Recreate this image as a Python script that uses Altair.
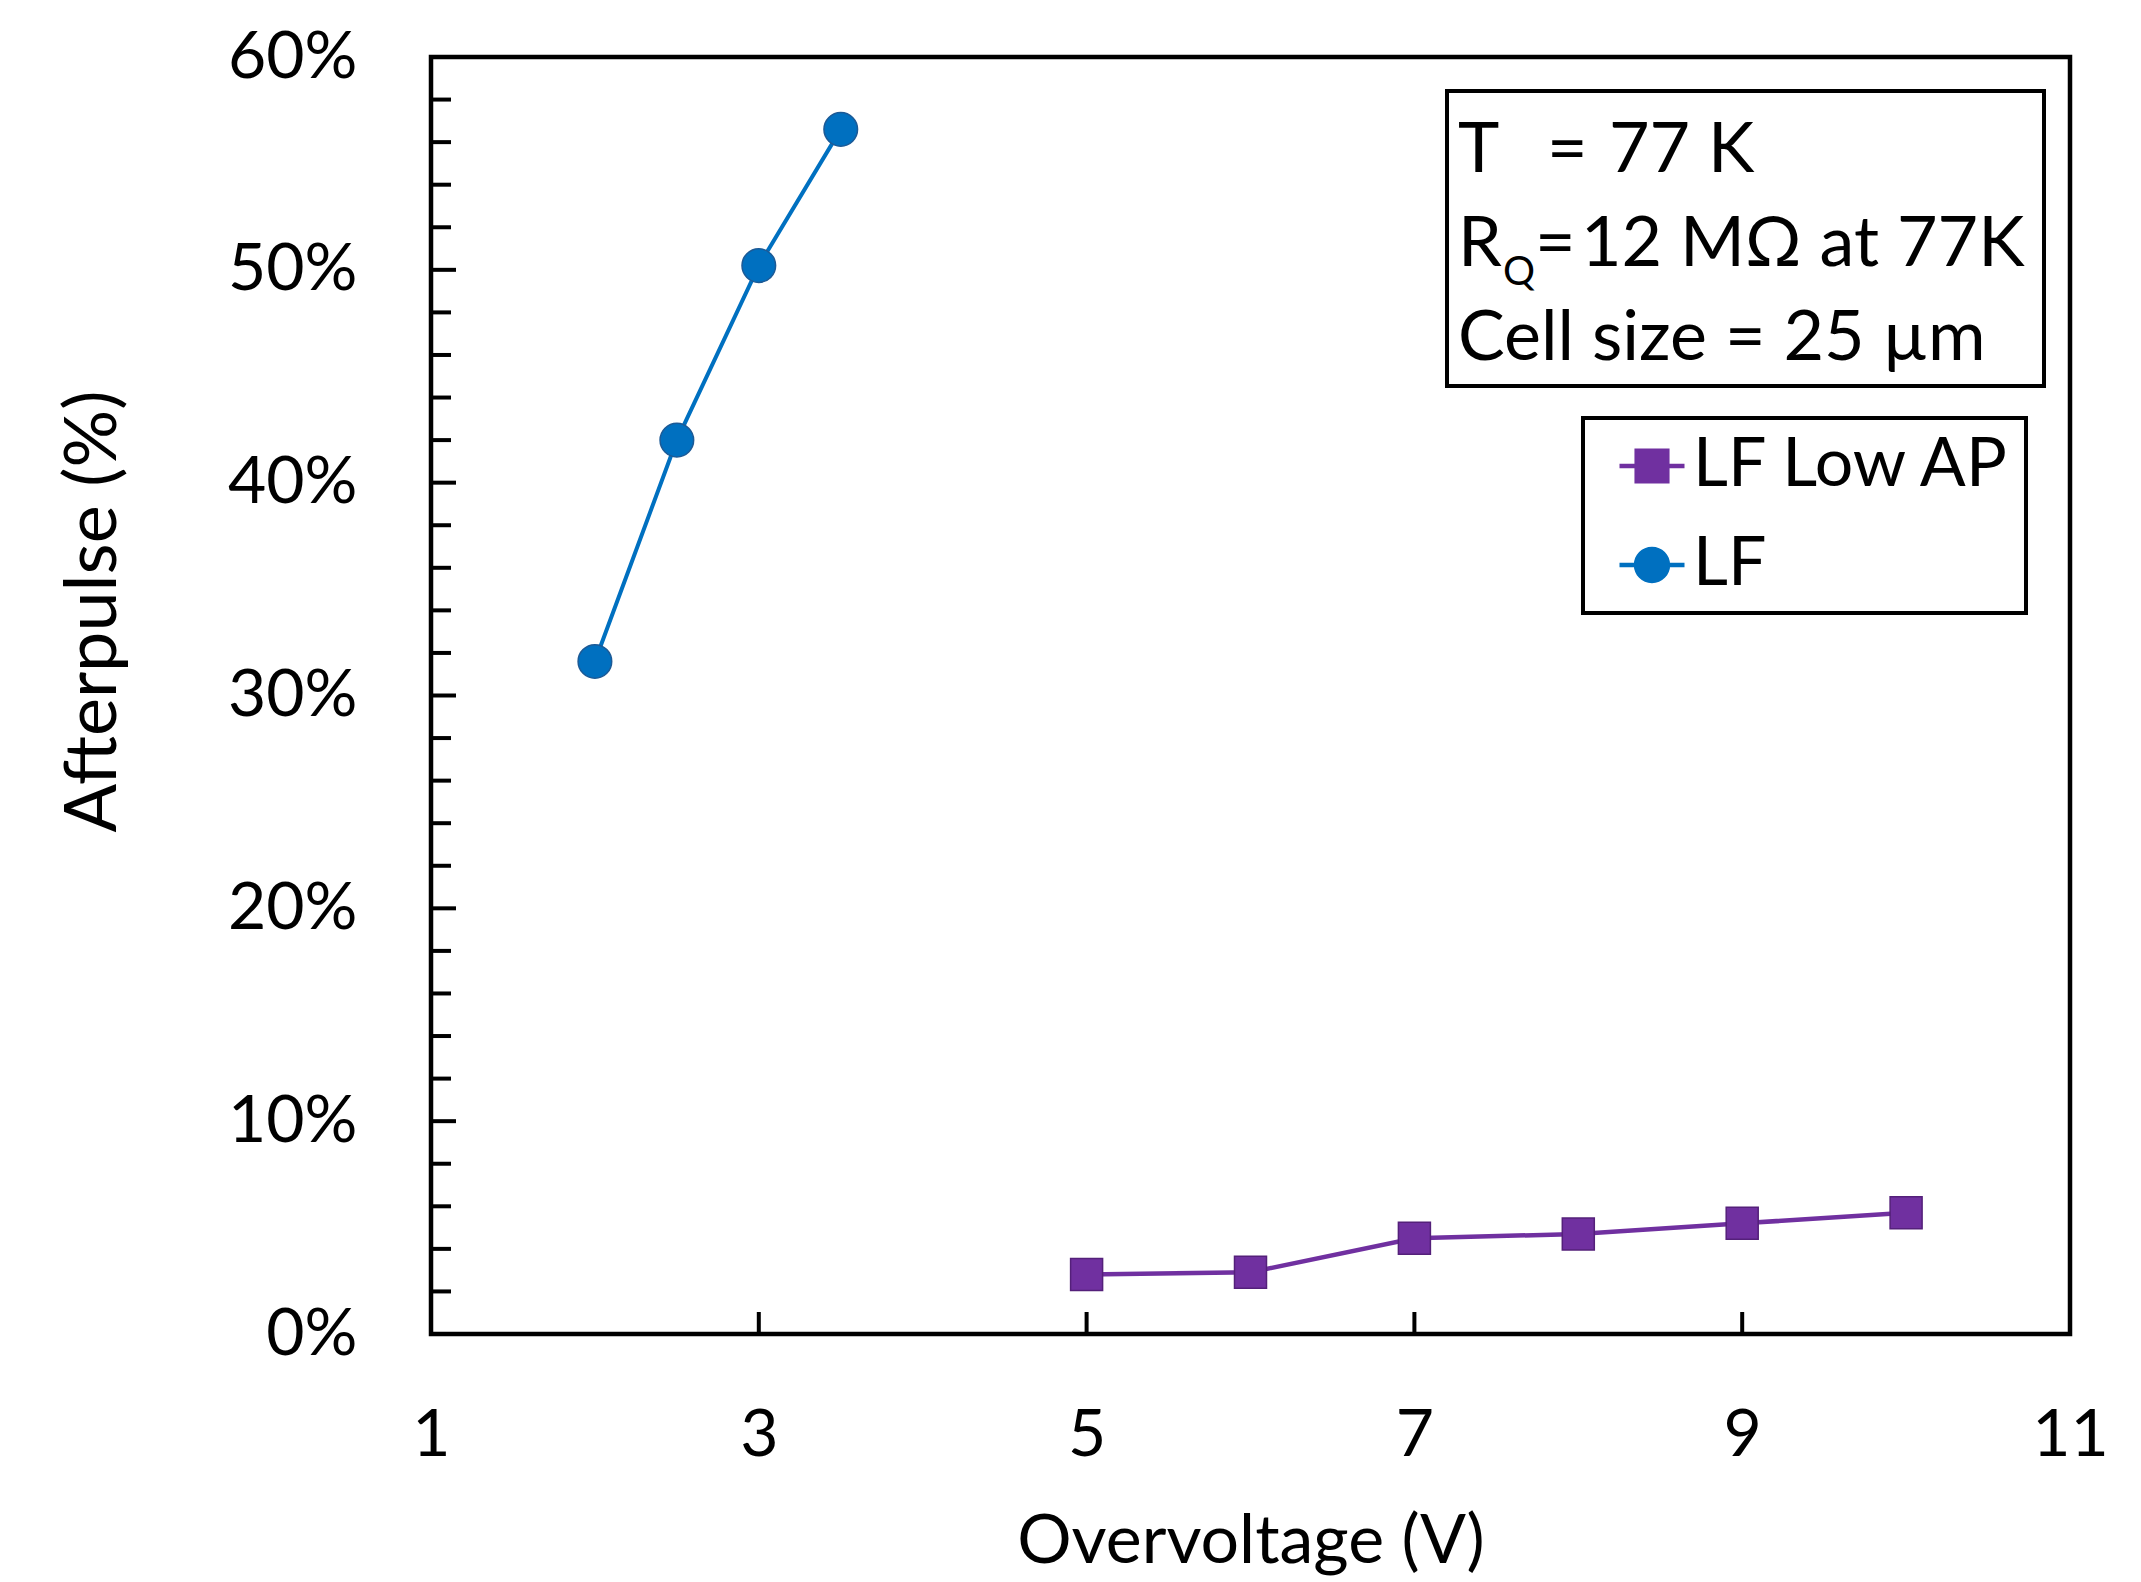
import altair as alt
import pandas as pd

# ---------------- data ----------------
series_names = ["LF Low AP", "LF"]
series_colors = ["#7030A0", "#0070C0"]
series_edge = ["#54207a", "#1c5a96"]
series_shapes = ["square", "circle"]

lf_low_ap_v = [5, 6, 7, 8, 9, 10]
lf_low_ap_ap = [2.8, 2.9, 4.5, 4.7, 5.2, 5.7]

lf_v = [2, 2.5, 3, 3.5]
lf_ap = [31.6, 42.0, 50.2, 56.6]

x_tick_values = [1, 3, 5, 7, 9, 11]
x_inner_ticks = [3, 5, 7, 9]
y_tick_values = [0, 10, 20, 30, 40, 50, 60]
y_major_inner = [10, 20, 30, 40, 50]
y_minor_inner = [2, 4, 6, 8, 12, 14, 16, 18, 22, 24, 26, 28, 32, 34, 36, 38,
                 42, 44, 46, 48, 52, 54, 56, 58]

x_title = "Overvoltage (V)"
y_title = "Afterpulse (%)"
annot_T = ["T", "=", "77 K"]
annot_R = ["R", "Q", "=", "12 MΩ at 77K"]
annot_cell = "Cell size = 25 µm"

# ---------------- tables ----------------
df = pd.DataFrame({
    "V": lf_low_ap_v + lf_v,
    "AP": lf_low_ap_ap + lf_ap,
    "series": [series_names[0]] * len(lf_low_ap_v) + [series_names[1]] * len(lf_v),
})
ymaj = pd.DataFrame({"t": y_major_inner})
ymin = pd.DataFrame({"t": y_minor_inner})
xin = pd.DataFrame({"t": x_inner_ticks})

FONT = "Lato"
W, H = 1639, 1277

xscale = alt.Scale(domain=[1, 11], nice=False, zero=False)
yscale = alt.Scale(domain=[0, 60], nice=False)
cscale = alt.Scale(domain=series_names, range=series_colors)

sq_path = "M-1,-0.07H-0.54V-0.54H0.54V-0.07H1V0.07H0.54V0.54H-0.54V0.07H-1Z"
ci_path = ("M-1,-0.07H-0.5V0.07H-1Z M0.5,-0.07H1V0.07H0.5Z "
           "M0.56,0A0.56,0.56,0,1,1,-0.56,0A0.56,0.56,0,1,1,0.56,0Z")
sscale = alt.Scale(domain=series_names, range=[sq_path, ci_path])

xaxis = alt.Axis(values=x_tick_values, format="d", title=x_title,
                 domain=False, ticks=False, tickSize=0, grid=False,
                 labelFontSize=66, labelFont=FONT, labelPadding=69,
                 labelFlush=False, labelOverlap=False,
                 titleFontSize=68, titleFont=FONT, titleY=228,
                 titleBaseline="alphabetic")
yaxis = alt.Axis(values=y_tick_values, labelExpr="datum.value + '%'", title=y_title,
                 domain=False, ticks=False, tickSize=0, grid=False,
                 labelFontSize=66, labelFont=FONT, labelPadding=74,
                 labelOverlap=False,
                 titleFontSize=72, titleFont=FONT, titleX=-316, titleY=554,
                 titleAlign="center", titleBaseline="alphabetic")

X = alt.X("V:Q", scale=xscale, axis=xaxis)
Y = alt.Y("AP:Q", scale=yscale, axis=yaxis)

leg = alt.Legend(title=None, orient="none", legendX=1152, legendY=361,
                 symbolSize=4225, symbolStrokeWidth=0, symbolOffset=21,
                 labelFont=FONT, labelFontSize=68, labelColor="black",
                 labelLimit=2000, labelOffset=7, rowPadding=31, padding=14,
                 strokeColor="black", fillColor="white")

series_layers = []
for i, name in enumerate(series_names):
    base = alt.Chart(df).transform_filter(alt.datum.series == name)
    series_layers.append(
        base.mark_line(color=series_colors[i], strokeWidth=4.5 if i == 0 else 4).encode(x=X, y=Y)
    )
for i, name in enumerate(series_names):
    base = alt.Chart(df).transform_filter(alt.datum.series == name)
    series_layers.append(
        base.mark_point(shape=series_shapes[i], filled=True,
                        size=1024 if i == 0 else 1130, opacity=1,
                        fill=series_colors[i], stroke=series_edge[i],
                        strokeWidth=1.5).encode(x=X, y=Y)
    )

# legend only (no marks drawn: every row filtered away, scales carry the domain)
legend_layer = alt.Chart(df).transform_filter("false").mark_point(
    filled=True, opacity=1).encode(
    x=X, y=Y,
    color=alt.Color("series:N", scale=cscale, legend=leg),
    shape=alt.Shape("series:N", scale=sscale, legend=leg),
)

ymaj_ticks = alt.Chart(ymaj).mark_rule(color="black", strokeWidth=4).encode(
    y=alt.Y("t:Q", scale=yscale), x=alt.value(0), x2=alt.value(25))
ymin_ticks = alt.Chart(ymin).mark_rule(color="black", strokeWidth=4).encode(
    y=alt.Y("t:Q", scale=yscale), x=alt.value(0), x2=alt.value(20))
x_ticks = alt.Chart(xin).mark_rule(color="black", strokeWidth=4).encode(
    x=alt.X("t:Q", scale=xscale), y=alt.value(H), y2=alt.value(H - 22))

one = alt.Data(values=[{}])
box = alt.Chart(one).mark_rect(fill="white", stroke="black", strokeWidth=4).encode(
    x=alt.value(1016), x2=alt.value(1613), y=alt.value(34), y2=alt.value(329))


def txt(s, x, y, size=70):
    return alt.Chart(one).mark_text(align="left", baseline="alphabetic",
                                    font=FONT, fontSize=size, color="black").encode(
        x=alt.value(x), y=alt.value(y), text=alt.value(s))


annot = [
    txt(annot_T[0], 1027, 115),
    txt(annot_T[1], 1116, 115),
    txt(annot_T[2], 1178, 115),
    txt(annot_R[0], 1027, 209),
    txt(annot_R[1], 1072, 228, 40),
    txt(annot_R[2], 1104, 209),
    txt(annot_R[3], 1150, 209),
    txt(annot_cell, 1027, 303),
]

chart = alt.layer(
    ymaj_ticks, ymin_ticks, x_ticks, *series_layers, legend_layer, box, *annot
).properties(
    width=W, height=H,
    autosize=alt.AutoSizeParams(type="none"),
    padding={"left": 431, "top": 57, "right": 71, "bottom": 248},
    background="white",
).configure_view(
    stroke="black", strokeWidth=4.5
).configure_axis(
    labelColor="black", titleColor="black", titleFontWeight="normal"
).configure_legend(
    strokeWidth=4
)

chart.save("out.html", embed_options={"renderer": "svg", "actions": False})
